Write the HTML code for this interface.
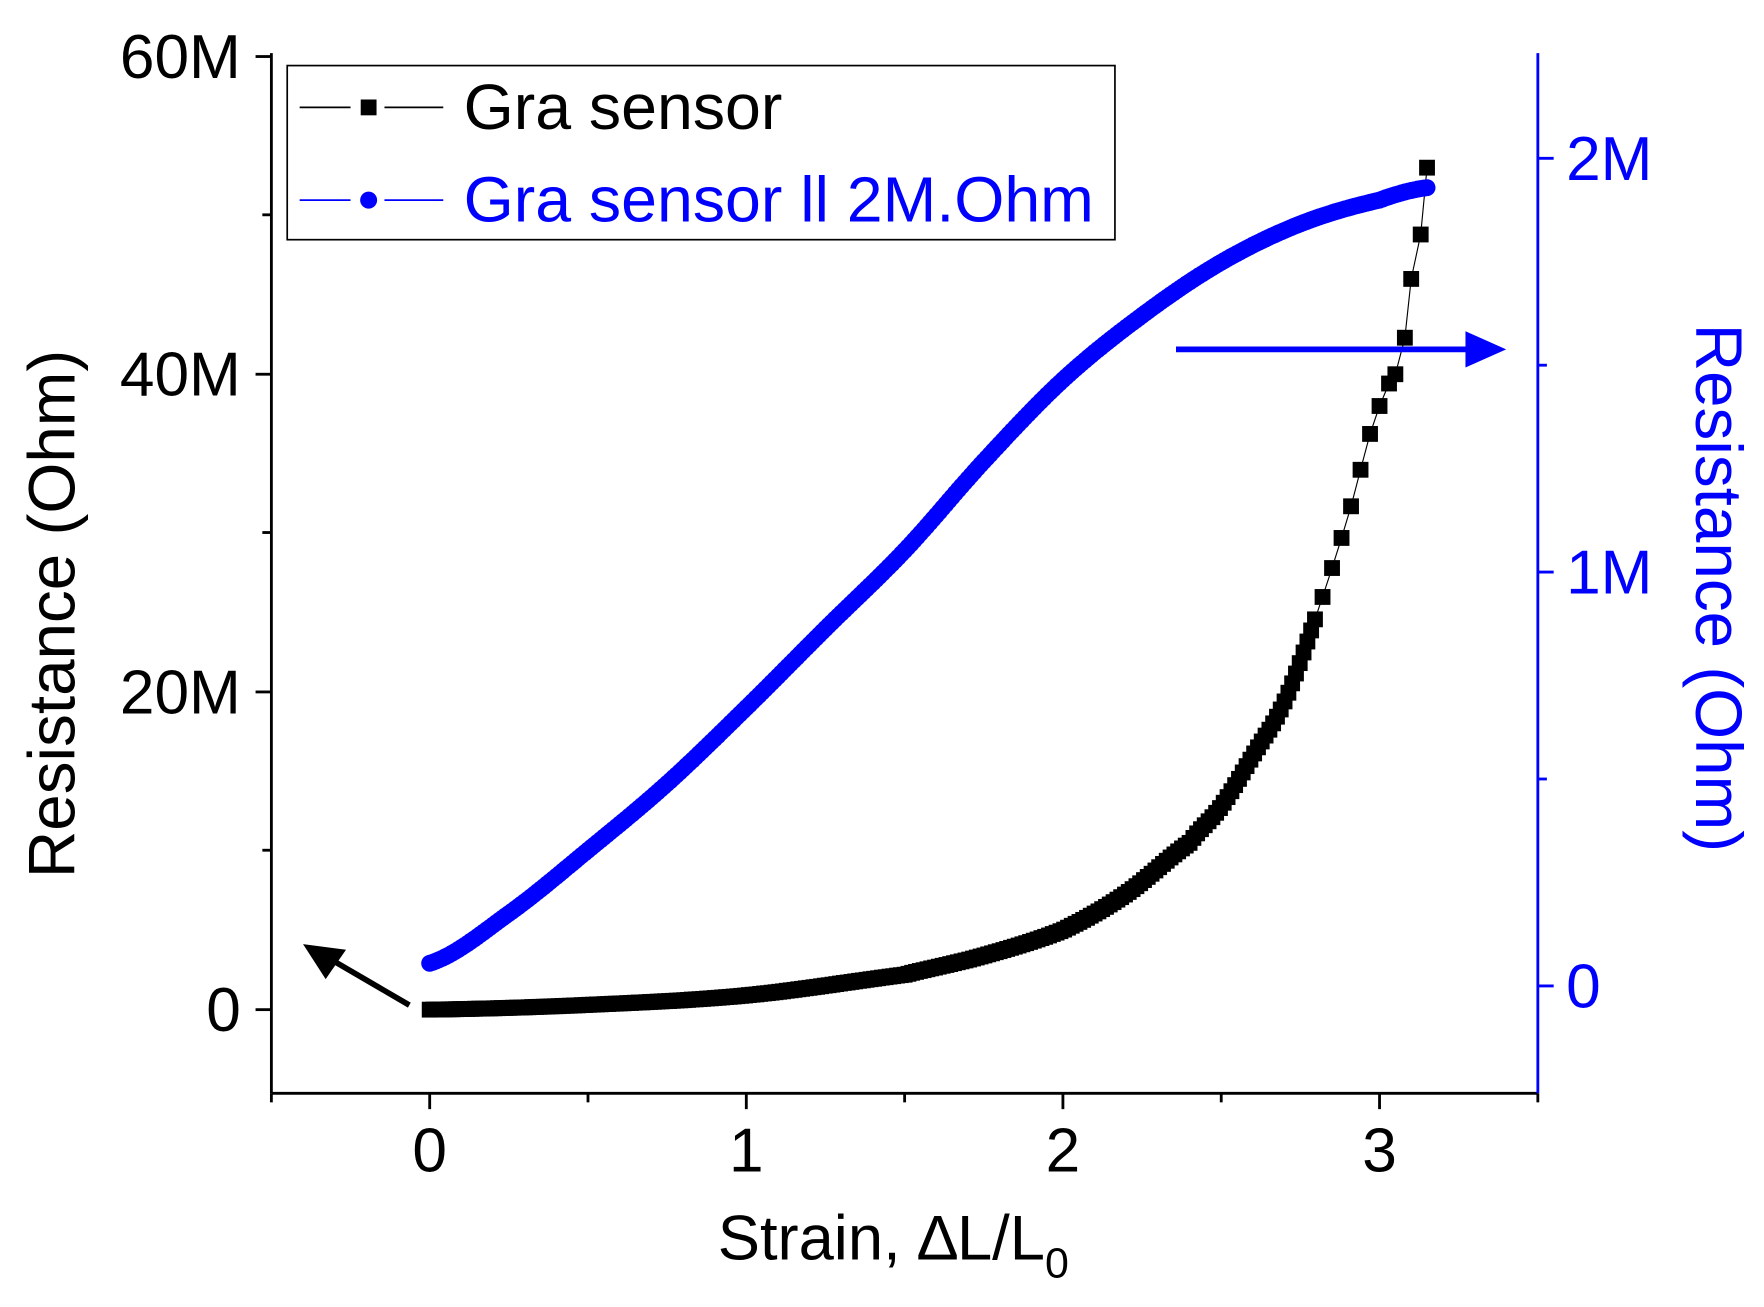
<!DOCTYPE html>
<html><head><meta charset="utf-8"><style>html,body{margin:0;padding:0;background:#fff;}svg{display:block}</style></head>
<body>
<svg id="s" width="1764" height="1307" viewBox="0 0 1560 1156" preserveAspectRatio="none" xmlns="http://www.w3.org/2000/svg" font-family="Liberation Sans, Arial, sans-serif">
<rect width="1560" height="1156" fill="#fff"/>
<g id="data"></g>
<line x1="240" y1="47" x2="240" y2="967" stroke="#000" stroke-width="2.5"/>
<line x1="240" y1="967" x2="1360" y2="967" stroke="#000" stroke-width="2.5"/>
<line x1="1360" y1="47" x2="1360" y2="967" stroke="#0000ff" stroke-width="2.5"/>
<g stroke="#000" stroke-width="2.5">
<line x1="226" y1="50" x2="240" y2="50"/><line x1="226" y1="331" x2="240" y2="331"/><line x1="226" y1="612" x2="240" y2="612"/><line x1="226" y1="893" x2="240" y2="893"/>
<line x1="232" y1="190" x2="240" y2="190"/><line x1="232" y1="471" x2="240" y2="471"/><line x1="232" y1="752" x2="240" y2="752"/>
<line x1="380" y1="967" x2="380" y2="981"/><line x1="660" y1="967" x2="660" y2="981"/><line x1="940" y1="967" x2="940" y2="981"/><line x1="1220" y1="967" x2="1220" y2="981"/>
<line x1="240" y1="967" x2="240" y2="975"/><line x1="520" y1="967" x2="520" y2="975"/><line x1="800" y1="967" x2="800" y2="975"/><line x1="1080" y1="967" x2="1080" y2="975"/><line x1="1360" y1="967" x2="1360" y2="975"/>
</g>
<g stroke="#0000ff" stroke-width="2.5">
<line x1="1360" y1="140" x2="1374" y2="140"/><line x1="1360" y1="506" x2="1374" y2="506"/><line x1="1360" y1="872" x2="1374" y2="872"/>
<line x1="1360" y1="323" x2="1368" y2="323"/><line x1="1360" y1="689" x2="1368" y2="689"/>
</g>
<g font-size="55" fill="#000" text-anchor="end">
<text x="213" y="69">60M</text><text x="213" y="350">40M</text><text x="213" y="631">20M</text><text x="213" y="912">0</text>
</g>
<g font-size="55" fill="#000" text-anchor="middle">
<text x="380" y="1036">0</text><text x="660" y="1036">1</text><text x="940" y="1036">2</text><text x="1220" y="1036">3</text>
</g>
<g font-size="55" fill="#0000ff">
<text x="1385" y="159">2M</text><text x="1385" y="525">1M</text><text x="1385" y="891">0</text>
</g>
<text x="790" y="1114" font-size="56" text-anchor="middle">Strain, ∆L/L<tspan font-size="38" dy="16">0</tspan></text>
<text transform="translate(66,543) rotate(-90)" font-size="58" text-anchor="middle">Resistance (Ohm)</text>
<text transform="translate(1500,520) rotate(90)" font-size="58" text-anchor="middle" fill="#0000ff">Resistance (Ohm)</text>
<line x1="362" y1="889" x2="290" y2="847" stroke="#000" stroke-width="5"/>
<polygon points="268,835 306,840 288,866" fill="#000"/>
<line x1="1040" y1="309" x2="1300" y2="309" stroke="#0000ff" stroke-width="5"/>
<polygon points="1332,309 1296,293 1296,325" fill="#0000ff"/>
<rect x="254" y="58" width="732" height="154" fill="#fff" stroke="#000" stroke-width="1.5"/>
<line x1="265" y1="95" x2="310" y2="95" stroke="#000" stroke-width="1.5"/>
<line x1="340" y1="95" x2="392" y2="95" stroke="#000" stroke-width="1.5"/>
<rect x="319" y="88" width="14" height="14" fill="#000"/>
<text x="410" y="114" font-size="57">Gra sensor</text>
<line x1="265" y1="177" x2="310" y2="177" stroke="#0000ff" stroke-width="1.5"/>
<line x1="340" y1="177" x2="392" y2="177" stroke="#0000ff" stroke-width="1.5"/>
<circle cx="326" cy="177" r="7.5" fill="#0000ff"/>
<text x="410" y="196" font-size="57" fill="#0000ff">Gra sensor ll 2M.Ohm</text>
</svg>
<script>
function interp(a,x){var n=a.length;for(var i=0;i<n-1;i++){if(x<=a[i+1][0]||i==n-2){var x0=a[i][0],x1=a[i+1][0],t=(x-x0)/(x1-x0);
var p0=a[Math.max(i-1,0)][1],p1=a[i][1],p2=a[i+1][1],p3=a[Math.min(i+2,n-1)][1];
var m1=(p2-p0)/2,m2=(p3-p1)/2,t2=t*t,t3=t2*t;
return (2*t3-3*t2+1)*p1+(t3-2*t2+t)*m1+(-2*t3+3*t2)*p2+(t3-t2)*m2;}}return a[n-1][1];}
var B=[[0,0],[0.5,0.3],[1,0.9],[1.5,2.2],[1.75,3.4],[2,5],[2.2,7.3],[2.4,10.5],[2.5,12.8],[2.6,16],[2.7,19.4],[2.8,24.8],[2.9,31],[3.0,38],[3.05,40],[3.08,42.3],[3.1,46],[3.13,48.8],[3.15,53]];
var C=[[0,852],[0.25,808],[0.5,752],[0.75,693],[1,626],[1.25,556],[1.5,487],[1.75,408],[2,336],[2.25,279],[2.5,232],[2.75,198],[3,177],[3.15,166]];
var g=document.getElementById('data'),h='';
function px(x){return 380+280*x;}
var bp='';
var xs=[];for(var x=0;x<=2.8;x+=0.012)xs.push(x);
[2.82,2.85,2.88,2.91,2.94,2.97,3.0,3.03,3.05,3.08,3.1,3.13,3.15].forEach(function(v){xs.push(v)});
xs.forEach(function(x,i){var y=893-14.05*interp(B,x);bp+=(i?'L':'M')+px(x).toFixed(1)+' '+y.toFixed(1);h+='<rect x="'+(px(x)-7).toFixed(1)+'" y="'+(y-7).toFixed(1)+'" width="14" height="14" fill="#000"/>';});
h='<path d="'+bp+'" fill="none" stroke="#000" stroke-width="1"/>'+h;
for(var x=0;x<=3.151;x+=0.01){var y=interp(C,x);h+='<circle cx="'+px(x).toFixed(1)+'" cy="'+y.toFixed(1)+'" r="7.5" fill="#0000ff"/>';}
g.innerHTML=h;
</script>
</body></html>
